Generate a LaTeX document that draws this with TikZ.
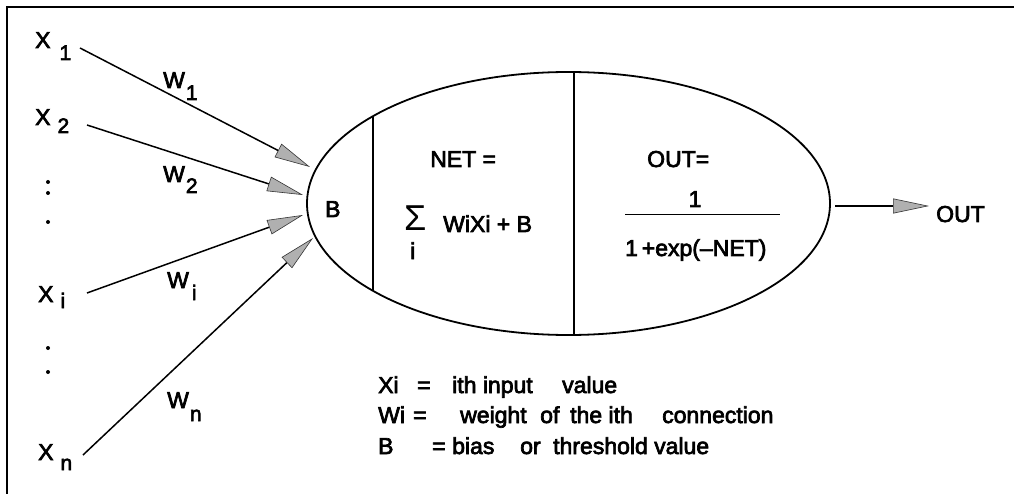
\documentclass[tikz,border=0pt]{standalone}
\usepackage{graphicx}
\usepackage{fontspec}
\setmainfont{Liberation Sans}[FakeBold=3]
\newfontfamily\sigfont{Liberation Sans}
\usetikzlibrary{arrows.meta,shapes.geometric}
\begin{document}
\begin{tikzpicture}[x=1pt,y=-1pt,
  txt/.style={inner sep=0pt, anchor=base west, font=\fontsize{23}{26}\selectfont},
  inarrow/.style={line width=1.5pt, -{Triangle[length=36pt,width=15pt,fill=gray!62,color=black!80,line width=0.6pt]}},
  divider/.style={line width=1.1pt},
  dotmark/.style={circle, fill=black, inner sep=0pt, minimum size=4pt}
 ]
\useasboundingbox (0,0) rectangle (1014,494);
% frame
\draw[line width=2pt] (7,494) -- (7,7) -- (1014,7);
% inputs
\node[txt] (x1) at (35,48) {X\kern9pt\raisebox{-12pt}{\fontsize{21}{24}\selectfont 1}};
\node[txt] (x2) at (35,125) {X\kern7pt\raisebox{-8pt}{\fontsize{21}{24}\selectfont 2}};
\node[txt] (xi) at (38,302) {X\kern7pt\raisebox{-6pt}{\fontsize{21}{24}\selectfont i}};
\node[txt] (xn) at (38,460) {X\kern7pt\raisebox{-10pt}{\fontsize{21}{24}\selectfont n}};
% dots
\node[dotmark] (d1) at (48,182) {};
\node[dotmark] (d2) at (48,193) {};
\node[dotmark] (d3) at (48,222) {};
\node[dotmark] (d4) at (48,348) {};
\node[dotmark] (d5) at (48,372) {};
% weights
\node[txt] (w1) at (163,88) {W\kern1pt\raisebox{-12pt}{\fontsize{21}{24}\selectfont 1}};
\node[txt] (w2) at (163,182) {W\kern1pt\raisebox{-11pt}{\fontsize{21}{24}\selectfont 2}};
\node[txt] (wi) at (167,288) {W\kern3pt\raisebox{-12pt}{\fontsize{21}{24}\selectfont i}};
\node[txt] (wn) at (167,408) {W\kern1pt\raisebox{-13pt}{\fontsize{21}{24}\selectfont n}};
% neuron
\node[draw, ellipse, line width=1.8pt, minimum width=523pt, minimum height=263pt, inner sep=0pt] (neuron) at (568.5,203.5) {};
\draw[divider] (373,116.5) -- (373,290.5);
\draw[divider] (574,72) -- (574,335);
\node[txt] (bias) at (325,217) {B};
\node[txt] (net) at (430,167) {NET =};
\node[inner sep=0pt, anchor=base west, font=\sigfont\fontsize{36}{38}\selectfont] (sigma) at (404,231) {Σ};
\node[txt] (sumidx) at (410,259) {i};
\node[txt] (sumexp) at (443,232) {WiXi + B};
\node[txt] (outeq) at (647,167) {OUT=};
\node[txt, anchor=base] (num) at (695,207) {1};
\draw[line width=1pt] (625,215) -- (780,215);
\node[txt] (den) at (625,256) {1\,+exp(--NET)};
% connectors
\coordinate (s1) at (80,48);   \coordinate (t1) at (310,167);
\coordinate (s2) at (87,125);  \coordinate (t2) at (303,195);
\coordinate (s3) at (87,293);  \coordinate (t3) at (303,215);
\coordinate (s4) at (83,455);  \coordinate (t4) at (313,238);
\draw[inarrow] (s1) -- (t1);
\draw[inarrow] (s2) -- (t2);
\draw[inarrow] (s3) -- (t3);
\draw[inarrow] (s4) -- (t4);
% output
\node[txt] (outlbl) at (936,222) {OUT};
\coordinate (o0) at (835,206);
\coordinate (o1) at (929,206);
\draw[inarrow] (o0) -- (o1);
% legend
\node[txt] (l1a) at (378,393) {Xi};
\node[txt] (l1b) at (417,393) {=};
\node[txt] (l1c) at (452,393) {ith input};
\node[txt] (l1d) at (562,393) {value};
\node[txt] (l2a) at (378,423) {Wi};
\node[txt] (l2b) at (413,423) {=};
\node[txt] (l2c) at (460,423) {weight};
\node[txt] (l2d) at (540,423) {of};
\node[txt] (l2e) at (570,423) {the ith};
\node[txt] (l2f) at (662,423) {connection};
\node[txt] (l3a) at (378,454) {B};
\node[txt] (l3b) at (432,454) {=};
\node[txt] (l3c) at (452,454) {bias};
\node[txt] (l3d) at (520,454) {or};
\node[txt] (l3e) at (553,454) {threshold value};
\end{tikzpicture}
\end{document}
